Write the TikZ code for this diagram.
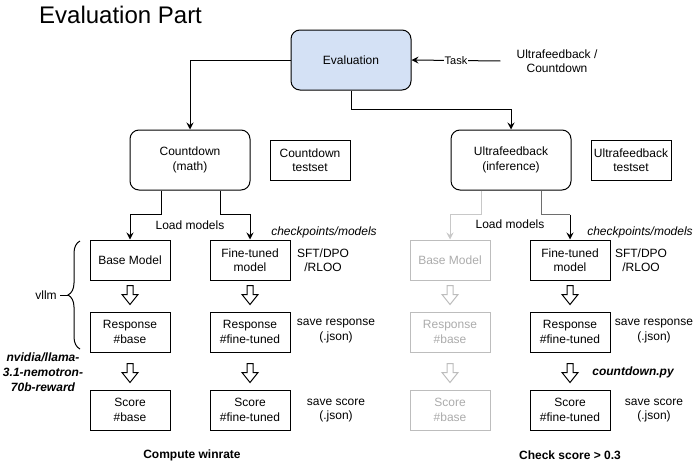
\documentclass[tikz,border=0pt]{standalone}
\usepackage{fontspec}
\setmainfont{Liberation Sans}
\usetikzlibrary{arrows.meta,calc,decorations.pathreplacing}
\definecolor{evalfill}{HTML}{D4E1F5}
\definecolor{ltline}{HTML}{C8C8C8}
\definecolor{ltbox}{HTML}{BDBDBD}
\definecolor{lttext}{HTML}{ABABAB}
\definecolor{dkline}{HTML}{6E6E6E}
\tikzset{
  every node/.style={font=\fontsize{12}{14.4}\selectfont},
  rbox/.style={draw, rounded corners=9pt, minimum width=120pt, minimum height=60pt, align=center, line width=1pt, inner sep=0pt},
  sbox/.style={draw, minimum width=80pt, minimum height=40pt, align=center, line width=1pt, inner sep=0pt},
  gbox/.style={sbox, draw=ltbox, text=lttext},
  lbl/.style={align=center, inner sep=0pt},
  itl/.style={lbl, font=\fontsize{12}{14.4}\selectfont\itshape},
  bitl/.style={lbl, font=\fontsize{12}{15}\selectfont\bfseries\itshape},
  bld/.style={lbl, font=\fontsize{12}{14.4}\selectfont\bfseries},
  ln/.style={line width=1pt},
  conn/.style={line width=1pt, -{Stealth[length=7pt,width=7pt,inset=2.5pt]}},
  pics/barrow/.style={code={\draw[line width=1pt, fill=white, line join=miter, #1] (-3,-10) -- (3,-10) -- (3,-1) -- (8,-1) -- (0,9) -- (-8,-1) -- (-3,-1) -- cycle;}},
  pics/barrow/.default={draw=black},
}
\begin{document}
\begin{tikzpicture}[x=1pt, y=-1pt]
\useasboundingbox (0,0) rectangle (700,471);

\node[anchor=base west, inner sep=0pt, font=\fontsize{24}{28}\selectfont] (title) at (39,23) {Evaluation Part};

% top level
\node[rbox, fill=evalfill] (eval) at (351,60) {Evaluation};
\node[lbl] (src) at (557,61) {Ultrafeedback /\\Countdown};
\draw[conn] ([xshift=-16pt]src.west) -- node[fill=white, inner sep=1pt, font=\fontsize{11}{13}\selectfont] (tasklbl) {Task} (eval.east);

\node[rbox] (cd) at (190,160) {Countdown\\(math)};
\node[sbox] (cdt) at (310,160.5) {Countdown\\testset};
\node[rbox] (uf) at (511,160) {Ultrafeedback\\(inference)};
\node[sbox] (uft) at (631,160.5) {Ultrafeedback\\testset};

\draw[conn] (eval.west) -| (cd.north);
\draw[conn] (eval.south) -- ++(0,19) -| (uf.north);

% left column
\node[sbox] (bm) at (130,260) {Base Model};
\node[sbox] (fm) at (250,260) {Fine-tuned\\model};
\node[sbox] (rb) at (130,332) {Response\\\#base};
\node[sbox] (rf) at (250,332) {Response\\\#fine-tuned};
\node[sbox] (sb) at (130,410) {Score\\\#base};
\node[sbox] (sf) at (250,410) {Score\\\#fine-tuned};

\draw[conn] ([xshift=-29pt]cd.south) |- ($(bm.north)+(0,-25)$) -- (bm.north);
\draw[conn] ([xshift=30pt]cd.south) |- ($(fm.north)+(0,-25)$) -- (fm.north);
\node (load1) at (190,225) {Load models};

\pic at ($(bm.south)+(0,15)$) {barrow};
\pic at ($(fm.south)+(0,15)$) {barrow};
\pic at ($(rb.south)+(0,21)$) {barrow};
\pic at ($(rf.south)+(0,21)$) {barrow};

\node[itl] (ck1) at (324,232) {checkpoints/models};
\node[lbl] (sft1) at (323,260.5) {SFT/DPO\\/RLOO};
\node[lbl] (sr1) at (336,331) {save response\\(.json)};
\node[lbl] (ss1) at (336,410.5) {save score\\(.json)};
\node[bld] (cw) at (192,455) {Compute winrate};

% brace and vllm
\draw[ln, decorate, decoration={brace, amplitude=12pt}] (80,349) -- (80,241);
\node (vllm) at (46,295) {vllm};
\draw[ln] (vllm.east) -- ++(8,0);
\node[bitl] (nv) at (43,372) {nvidia/llama-\\3.1-nemotron-\\70b-reward};

% right column
\node[gbox] (gbm) at (450,260) {Base Model};
\node[sbox] (ufm) at (570,260) {Fine-tuned\\model};
\node[gbox] (grb) at (450,332) {Response\\\#base};
\node[sbox] (urf) at (570,332) {Response\\\#fine-tuned};
\node[gbox] (gsb) at (450,410) {Score\\\#base};
\node[sbox] (usf) at (570,410) {Score\\\#fine-tuned};

\draw[conn, draw=ltline] ([xshift=-30pt]uf.south) |- ($(gbm.north)+(0,-25)$) -- (gbm.north);
\draw[ln, draw=dkline] ([xshift=30pt]uf.south) |- ($(ufm.north)+(0,-25)$) coordinate (kr);
\draw[conn] (kr) -- (ufm.north);
\node (load2) at (510,224) {Load models};

\pic at ($(gbm.south)+(0,15)$) {barrow={draw=ltbox}};
\pic at ($(ufm.south)+(0,15)$) {barrow};
\pic at ($(grb.south)+(0,21)$) {barrow={draw=ltbox}};
\pic at ($(urf.south)+(0,21)$) {barrow};

\node[itl] (ck2) at (640,232) {checkpoints/models};
\node[lbl] (sft2) at (641,260.5) {SFT/DPO\\/RLOO};
\node[lbl] (sr2) at (654,331) {save response\\(.json)};
\node[bitl] (cdpy) at (633,372) {countdown.py};
\node[lbl] (ss2) at (654,410.5) {save score\\(.json)};
\node[bld] (chk) at (570,455) {Check score > 0.3};
\end{tikzpicture}
\end{document}
